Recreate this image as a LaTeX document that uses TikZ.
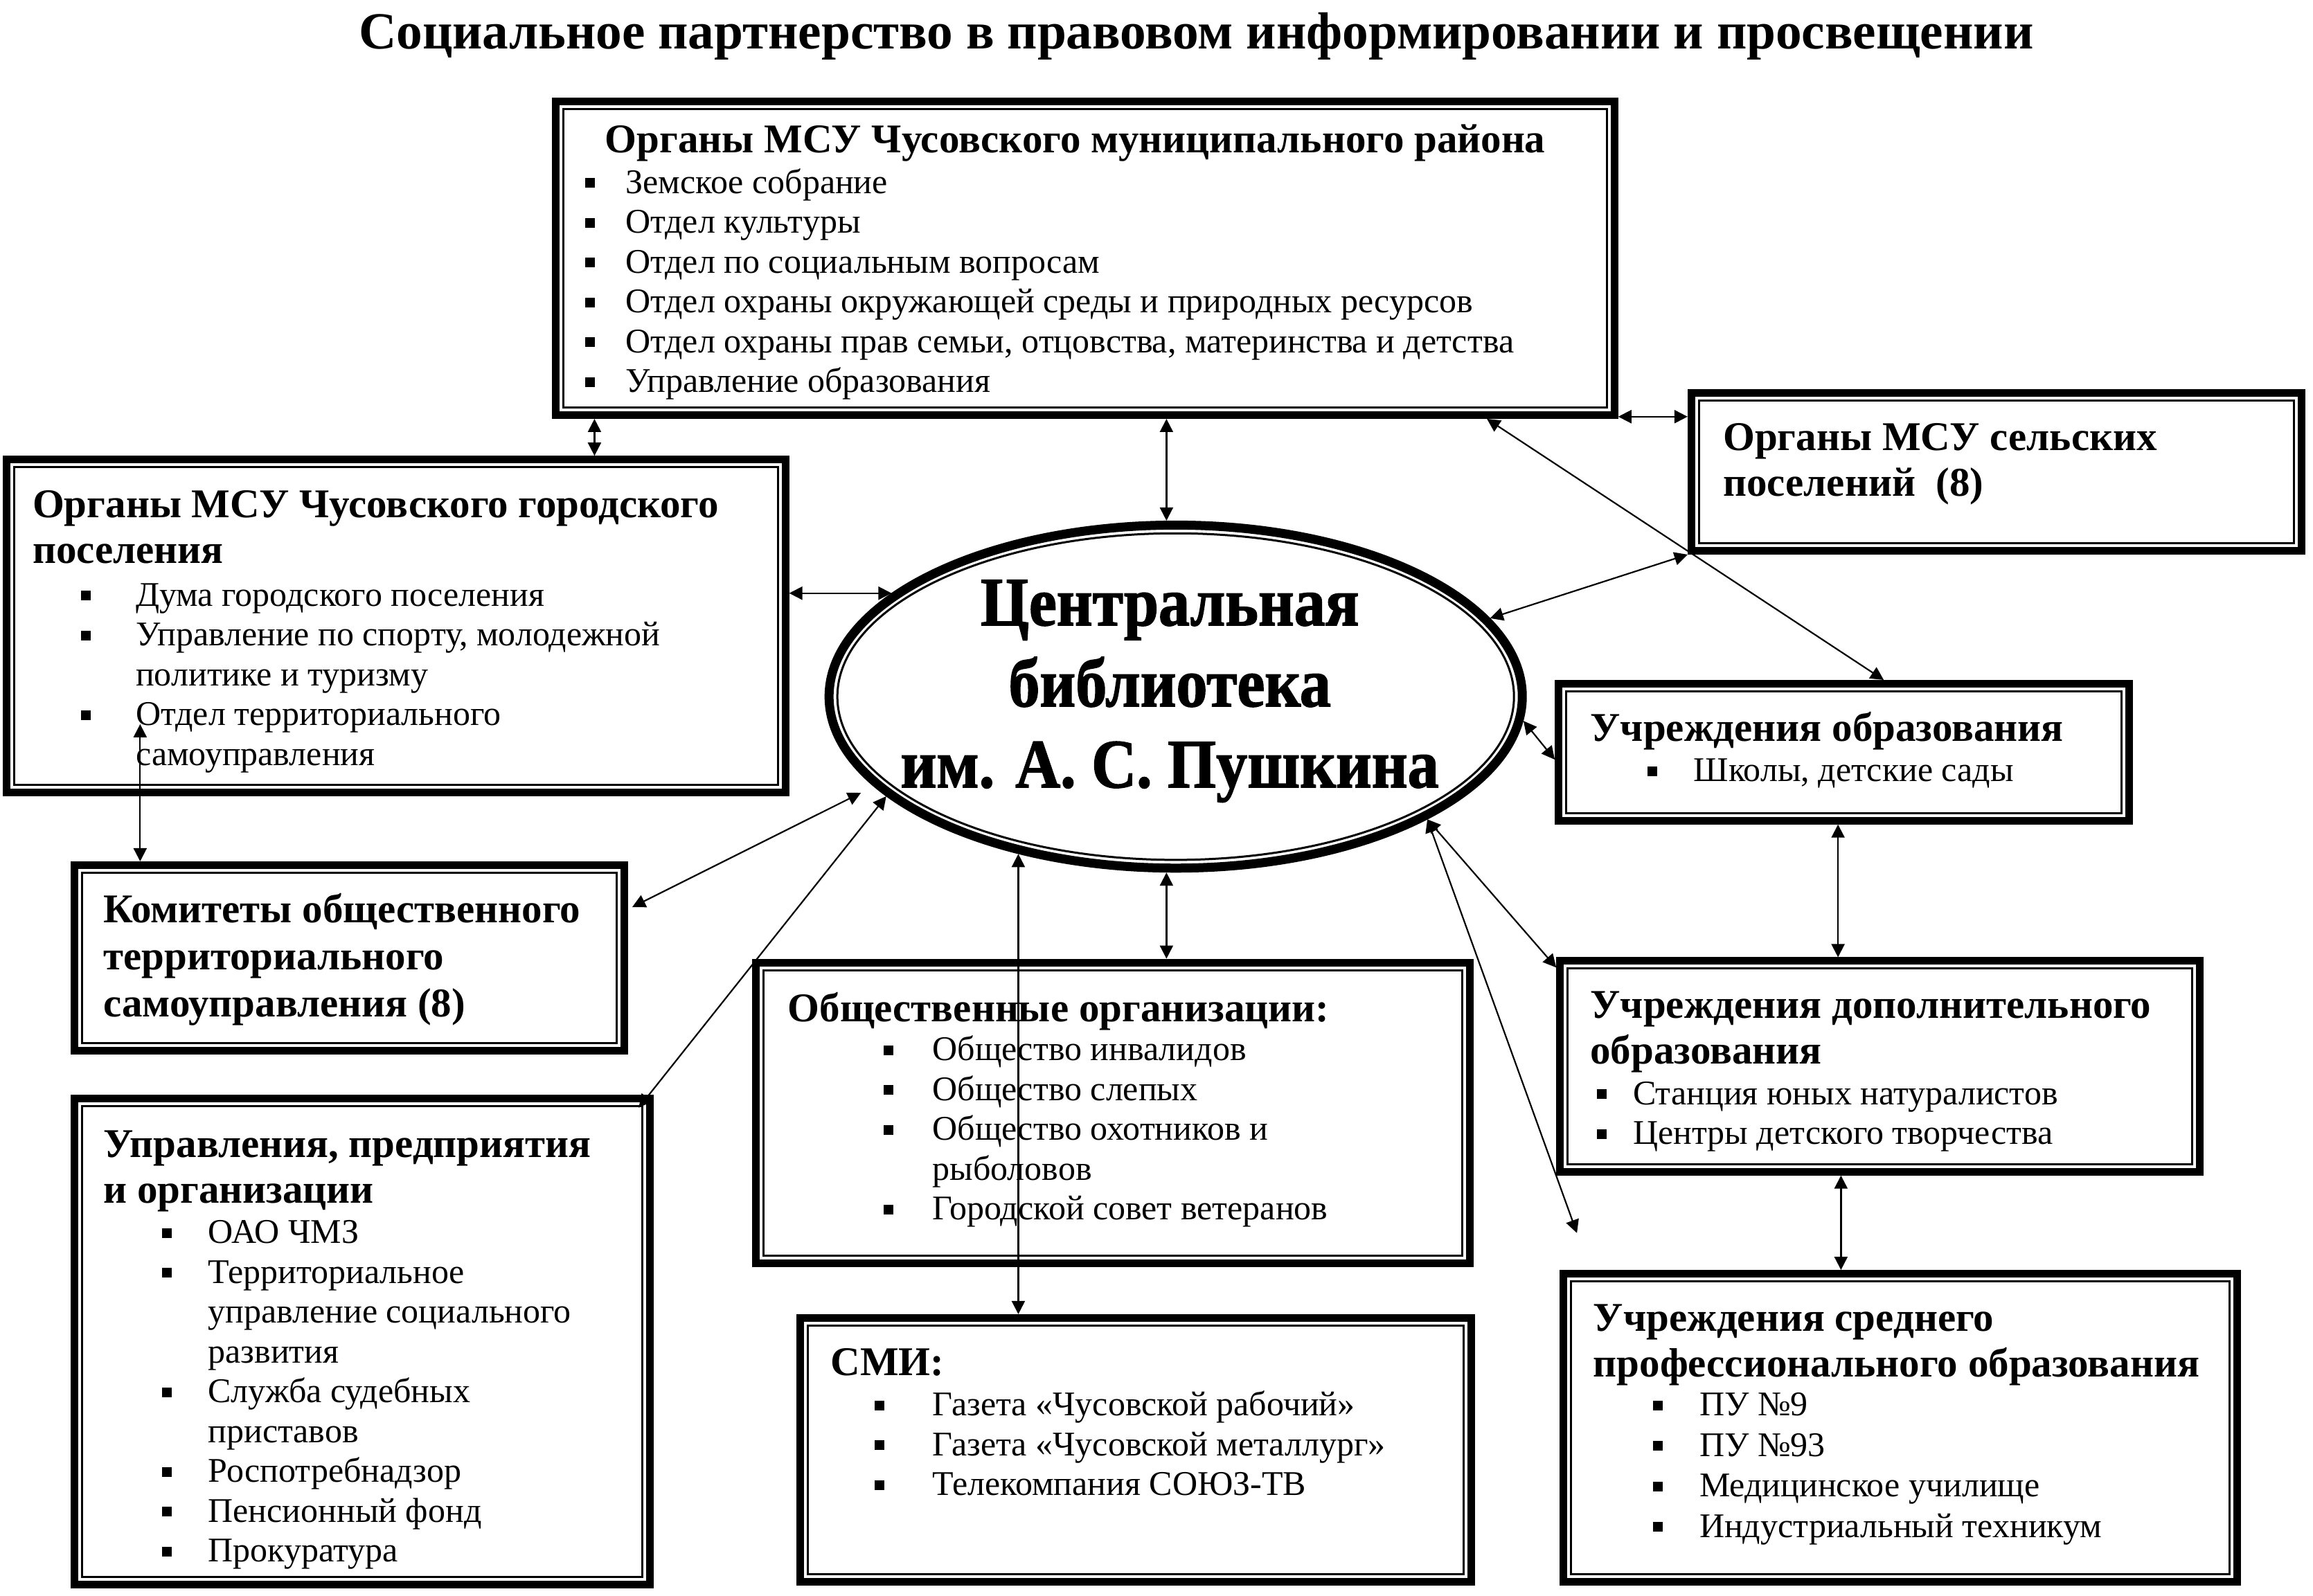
\documentclass[tikz,border=0pt]{standalone}
\usepackage{fontspec}
\setmainfont{Liberation Serif}
\newfontfamily\ellfont{Liberation Serif}[FakeStretch=0.9,FakeBold=1.5]
\usetikzlibrary{arrows.meta,calc,shapes.geometric}
\newcommand\bu[1]{\makebox[#1][l]{\raisebox{8pt}{\rule{14pt}{14pt}}}}
\newcommand\mkbox[5]{%
  \node[bxo, anchor=north west, minimum width={(#4-#2)*2.13pt-11pt}, minimum height={(#5-#3)*2.13pt-11pt}] (#1) at (#2,#3) {};
  \draw[bxi] ($(#1.north west)+(7.75,7.75)$) rectangle ($(#1.south east)+(-7.75,-7.75)$);
}
\begin{document}
\begin{tikzpicture}[x=2.13pt,y=-2.13pt,
  bxo/.style={draw, line width=11pt, rectangle, inner sep=0pt},
  bxi/.style={draw, line width=3pt},
  con/.style={line width=2.2pt, {Triangle[length=19pt,width=19pt]}-{Triangle[length=19pt,width=19pt]}},
  body/.style={inner sep=0pt, anchor=base west, font=\fontsize{50}{57.5}\selectfont},
  head/.style={inner sep=0pt, anchor=base west, font=\bfseries\fontsize{59}{66}\selectfont}]
\fill[white] (0,0) rectangle (1568,1082);
\useasboundingbox (0,0) rectangle (1568,1082);

% title
\node[inner sep=0pt, anchor=base, font=\bfseries\fontsize{75.3}{86}\selectfont] (T) at (811,33) {Социальное партнерство в правовом информировании и просвещении};

% boxes
\mkbox{A}{374}{66}{1097}{284}
\mkbox{B}{1144}{264}{1563}{376}
\mkbox{C}{2}{309}{535}{540}
\mkbox{D}{1054}{461}{1446}{559}
\mkbox{E}{48}{584}{426}{715}
\mkbox{F}{510}{650}{999}{859}
\mkbox{G}{1055}{649}{1494}{797}
\mkbox{H}{48}{742}{443}{1077}
\mkbox{I}{540}{891}{1000}{1075}
\mkbox{J}{1057}{861}{1519}{1075}

% central ellipse
\node[ellipse, draw, line width=13pt, inner sep=0pt, minimum width=1001pt, minimum height=495.4pt] (L) at (797,472.3) {};
\node[ellipse, draw, line width=3pt, inner sep=0pt, minimum width=977pt, minimum height=471.6pt] (Li) at (L.center) {};
\node[inner sep=0pt, anchor=base, font=\ellfont\bfseries\fontsize{100}{117}\selectfont] (LT) at (793,424)
  {\begin{tabular}[t]{@{}c@{}}Центральная\\библиотека\\им. А. С. Пушкина\end{tabular}};

% A
\node[head] (At) at (410,103.5) {Органы МСУ Чусовского муниципального района};
\node[body] (Ai) at (396.7,131) {\begin{tabular}[t]{@{}l@{}l@{}}
\bu{58pt}&Земское собрание\\
\bu{58pt}&Отдел культуры\\
\bu{58pt}&Отдел по социальным вопросам\\
\bu{58pt}&Отдел охраны окружающей среды и природных ресурсов\\
\bu{58pt}&Отдел охраны прав семьи, отцовства, материнства и детства\\
\bu{58pt}&Управление образования\end{tabular}};

% B
\node[head] (Bt) at (1168,305.5) {\begin{tabular}[t]{@{}l@{}}Органы МСУ сельских\\поселений\ \ (8)\end{tabular}};

% C
\node[head] (Ct) at (22,351) {\begin{tabular}[t]{@{}l@{}}Органы МСУ Чусовского городского\\поселения\end{tabular}};
\node[body] (Ci) at (54.7,411) {\begin{tabular}[t]{@{}l@{}l@{}}
\bu{79.5pt}&Дума городского поселения\\
\bu{79.5pt}&Управление по спорту, молодежной\\
&политике и туризму\\
\bu{79.5pt}&Отдел территориального\\
&самоуправления\end{tabular}};

% D
\node[head] (Dt) at (1078,502.5) {Учреждения образования};
\node[body] (Di) at (1116.7,530) {\begin{tabular}[t]{@{}l@{}l@{}}\bu{66.7pt}&Школы, детские сады\end{tabular}};

% E
\node[head, font=\bfseries\fontsize{59}{68}\selectfont] (Et) at (70,625.5) {\begin{tabular}[t]{@{}l@{}}Комитеты общественного\\территориального\\самоуправления (8)\end{tabular}};

% F
\node[head] (Ft) at (534,692.5) {Общественные организации:};
\node[body] (Fi) at (598.7,719) {\begin{tabular}[t]{@{}l@{}l@{}}
\bu{71pt}&Общество инвалидов\\
\bu{71pt}&Общество слепых\\
\bu{71pt}&Общество охотников и\\
&рыболовов\\
\bu{71pt}&Городской совет ветеранов\end{tabular}};

% G
\node[head] (Gt) at (1078,690.5) {\begin{tabular}[t]{@{}l@{}}Учреждения дополнительного\\образования\end{tabular}};
\node[body] (Gi) at (1082.7,749) {\begin{tabular}[t]{@{}l@{}l@{}}
\bu{51.8pt}&Станция юных натуралистов\\
\bu{51.8pt}&Центры детского творчества\end{tabular}};

% H
\node[head] (Ht) at (70,784.5) {\begin{tabular}[t]{@{}l@{}}Управления, предприятия\\и организации\end{tabular}};
\node[body] (Hi) at (109.7,843) {\begin{tabular}[t]{@{}l@{}l@{}}
\bu{66.7pt}&ОАО ЧМЗ\\
\bu{66.7pt}&Территориальное\\
&управление социального\\
&развития\\
\bu{66.7pt}&Служба судебных\\
&приставов\\
\bu{66.7pt}&Роспотребнадзор\\
\bu{66.7pt}&Пенсионный фонд\\
\bu{66.7pt}&Прокуратура\end{tabular}};

% I
\node[head] (It) at (563,932.5) {СМИ:};
\node[body] (Ii) at (592.7,960) {\begin{tabular}[t]{@{}l@{}l@{}}
\bu{83.7pt}&Газета «Чусовской рабочий»\\
\bu{83.7pt}&Газета «Чусовской металлург»\\
\bu{83.7pt}&Телекомпания СОЮЗ-ТВ\end{tabular}};

% J
\node[head] (Jt) at (1080,902.5) {\begin{tabular}[t]{@{}l@{}}Учреждения среднего\\профессионального образования\end{tabular}};
\node[body, font=\fontsize{50}{58.5}\selectfont] (Ji) at (1120.7,960) {\begin{tabular}[t]{@{}l@{}l@{}}
\bu{66.7pt}&ПУ №9\\
\bu{66.7pt}&ПУ №93\\
\bu{66.7pt}&Медицинское училище\\
\bu{66.7pt}&Индустриальный техникум\end{tabular}};

% connectors
\coordinate (a1) at ($(A.south west)+(29,0)$);
\draw[con] (a1) -- (a1 |- C.north);
\draw[con] (L.93 |- A.south) -- (L.93);
\coordinate (a3) at ($(A.south east)+(0,-1.5)$);
\draw[con] (a3) -- (a3 -| B.west);
\draw[con] ($(A.south west)+(634,0)$) -- ($(D.north west)+(223,0)$);
\draw[con] (C.east |- L.160) -- (L.160);
\draw[con] (B.south west) -- (L.14);
\draw[con] (L.-4) -- ($(D.north west)+(0,54)$);
\coordinate (d1) at ($(D.south west)+(192,0)$);
\draw[con] (d1) -- (d1 |- G.north);
\coordinate (g1) at ($(G.south west)+(193,0)$);
\draw[con] (g1) -- (g1 |- J.north);
\draw[con] (L.-26) -- ($(G.north west)+(0,7)$);
\coordinate (jf) at (1069,836);
\draw[con] (L.-26) -- (jf);
\draw[con] (L.-93) -- (L.-93 |- F.north);
\draw[con] (L.-135) -- (L.-135 |- I.north);
\draw[con] ($(L.center)!1.05!(L.-163)$) -- ($(E.north east)+(2.6,31)$);
\draw[con] (L.-161) -- ($(H.north east)+(-10,9)$);
\coordinate (c1) at ($(C.south west)+(93,-49)$);
\draw[con] (c1) -- (c1 |- E.north);
\end{tikzpicture}
\end{document}
